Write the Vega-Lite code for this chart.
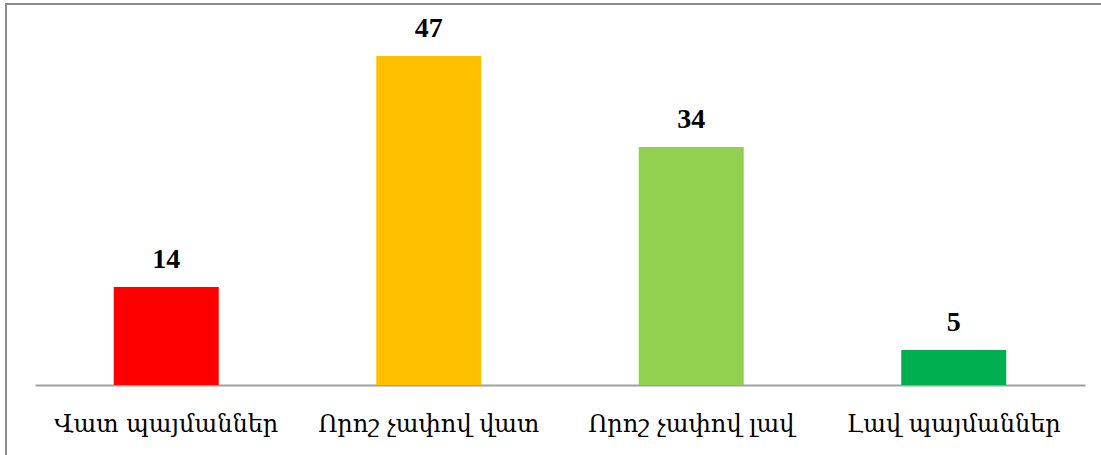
{
  "$schema": "https://vega.github.io/schema/vega-lite/v6.json",
  "autosize": "none",
  "width": 1101,
  "height": 460,
  "padding": {"left": 6, "top": 4, "right": 0, "bottom": 0},
  "background": "white",
  "config": {
    "view": {"stroke": "#8c8c8c", "strokeWidth": 2}
  },
  "data": {
    "values": [
      {"category": "Վատ պայմաններ", "value": 14, "color": "#FF0000"},
      {"category": "Որոշ չափով վատ", "value": 47, "color": "#FFC000"},
      {"category": "Որոշ չափով լավ", "value": 34, "color": "#92D050"},
      {"category": "Լավ պայմաններ", "value": 5, "color": "#00B050"}
    ]
  },
  "encoding": {
    "x": {
      "field": "category",
      "type": "nominal",
      "sort": null,
      "scale": {"range": [29, 1079], "paddingInner": 0.6, "paddingOuter": 0.3},
      "axis": {
        "title": null,
        "labelAngle": 0,
        "labelFont": "DejaVu Serif",
        "labelFontSize": 24,
        "labelLimit": 0,
        "labelColor": "#000000",
        "labelPadding": 27,
        "ticks": false,
        "domainColor": "#a0a0a0",
        "domainWidth": 2,
        "offset": -79
      }
    },
    "y": {
      "field": "value",
      "type": "quantitative",
      "scale": {"domain": [0, 50], "range": [381, 31]},
      "axis": null
    }
  },
  "layer": [
    {
      "mark": {"type": "bar"},
      "encoding": {
        "color": {"field": "color", "type": "nominal", "scale": null}
      }
    },
    {
      "mark": {
        "type": "text",
        "baseline": "alphabetic",
        "dy": -19,
        "font": "Liberation Serif",
        "fontSize": 28,
        "fontWeight": "bold",
        "color": "#000000"
      },
      "encoding": {
        "text": {"field": "value", "type": "quantitative"}
      }
    }
  ]
}
